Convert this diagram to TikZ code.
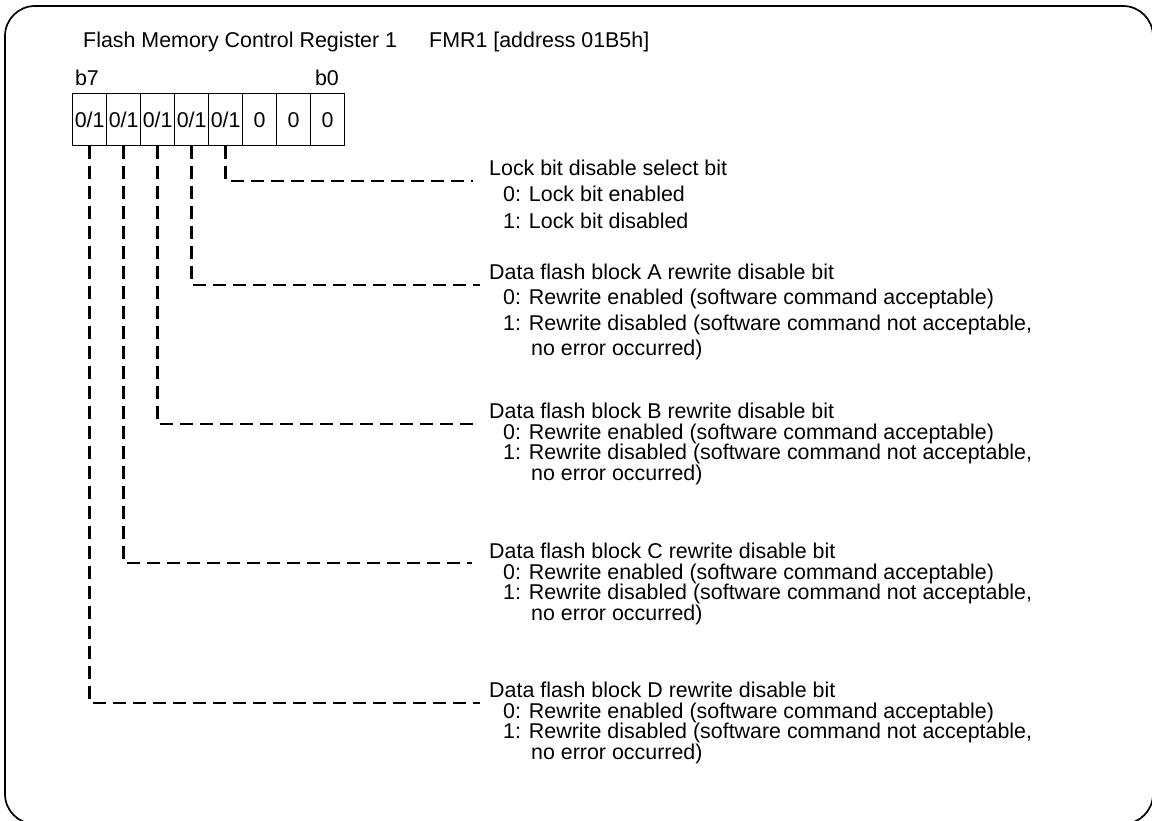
\documentclass[tikz,border=0pt]{standalone}
\usepackage{fontspec}
\setmainfont{Liberation Sans}
\begin{document}
\begin{tikzpicture}[x=1pt,y=-1pt,
  txt/.style={anchor=base west, inner sep=0pt, font=\fontsize{21.4}{25}\selectfont},
  cell/.style={draw, line width=1.3pt, minimum width=34pt, minimum height=52pt,
    inner sep=0pt, anchor=north west, font=\fontsize{21.4}{25}\selectfont},
  leader/.style={line width=2.8pt, dash pattern=on 13pt off 7pt},
  frame/.style={line width=1.7pt, rounded corners=30pt}]
\useasboundingbox (0,0) rectangle (1152,821);
\clip (0,0) rectangle (1152,821);
% outer frame
\draw[frame] (5,6) rectangle (1153,824);

% register name and bit numbers
\node[txt] (title) at (83,47.5) {Flash Memory Control Register 1};
\node[txt] (addr) at (429,47.5) {FMR1 [address 01B5h]};
\node[txt, anchor=base] (b7) at (87,85.5) {b7};
\node[txt, anchor=base] (b0) at (327,85.5) {b0};

% register cells, b7 on the left
\foreach \i/\v in {0/{0/1},1/{0/1},2/{0/1},3/{0/1},4/{0/1},5/0,6/0,7/0}{
  \pgfmathtruncatemacro{\bitno}{7-\i}
  \node[cell] (c\bitno) at (72+34*\i,93) {\v};
}

% leader line ends
\coordinate (e3) at (473,181);
\coordinate (e4) at (480,285);
\coordinate (e5) at (475,424);
\coordinate (e6) at (472,563);
\coordinate (e7) at (480,703);

\draw[leader] (c3.south) |- (e3);
\draw[leader] (c4.south) |- (e4);
\draw[leader] (c5.south) |- (e5);
\draw[leader] (c6.south) |- (e6);
\draw[leader] (c7.south) |- (e7);

% bit 3
\node[txt] (lk) at (489,175.5) {Lock bit disable select bit};
\node[txt] (lk0) at (503,201.5) {0: Lock bit enabled};
\node[txt] (lk1) at (503,228.5) {1: Lock bit disabled};

% bit 4
\node[txt] (ba) at (489,279.5) {Data flash block A rewrite disable bit};
\node[txt] (ba0) at (503,304.5) {0: Rewrite enabled (software command acceptable)};
\node[txt] (ba1) at (503,330.5) {1: Rewrite disabled (software command not acceptable,};
\node[txt] (ba2) at (531,355.5) {no error occurred)};

% bit 5
\node[txt] (bb) at (489,418.5) {Data flash block B rewrite disable bit};
\node[txt] (bb0) at (503,439) {0: Rewrite enabled (software command acceptable)};
\node[txt] (bb1) at (503,459.5) {1: Rewrite disabled (software command not acceptable,};
\node[txt] (bb2) at (531,480) {no error occurred)};

% bit 6
\node[txt] (bc) at (489,558.5) {Data flash block C rewrite disable bit};
\node[txt] (bc0) at (503,579) {0: Rewrite enabled (software command acceptable)};
\node[txt] (bc1) at (503,599.5) {1: Rewrite disabled (software command not acceptable,};
\node[txt] (bc2) at (531,620) {no error occurred)};

% bit 7
\node[txt] (bd) at (489,697.5) {Data flash block D rewrite disable bit};
\node[txt] (bd0) at (503,718) {0: Rewrite enabled (software command acceptable)};
\node[txt] (bd1) at (503,738.5) {1: Rewrite disabled (software command not acceptable,};
\node[txt] (bd2) at (531,759) {no error occurred)};
\end{tikzpicture}
\end{document}
